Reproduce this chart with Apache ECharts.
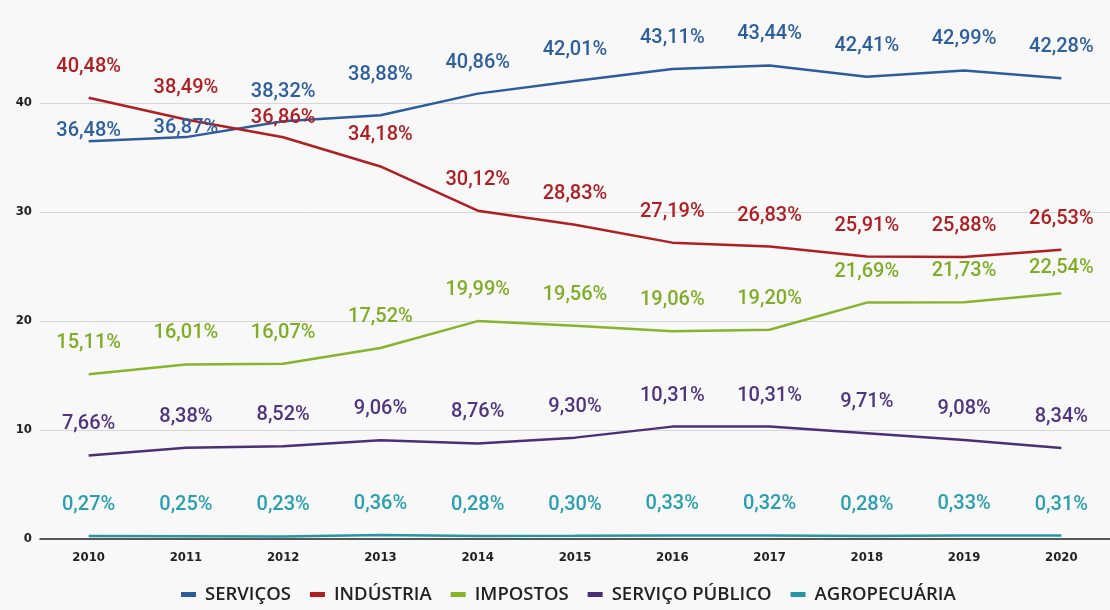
<!DOCTYPE html>
<html lang="pt">
<head>
    <meta charset="UTF-8">
    <title>PIB por setor</title>
    <script src="https://cdnjs.cloudflare.com/ajax/libs/echarts/6.0.0/echarts.min.js"></script>
    <style>
        html, body { margin: 0; padding: 0; background: #f8f8f8; }
        #main { width: 1110px; height: 610px; }
    </style>
</head>
<body>
    <div id="main"></div>
    <script>
        var years = ['2010', '2011', '2012', '2013', '2014', '2015', '2016', '2017', '2018', '2019', '2020'];
        var servicos = [36.48, 36.87, 38.32, 38.88, 40.86, 42.01, 43.11, 43.44, 42.41, 42.99, 42.28];
        var industria = [40.48, 38.49, 36.86, 34.18, 30.12, 28.83, 27.19, 26.83, 25.91, 25.88, 26.53];
        var impostos = [15.11, 16.01, 16.07, 17.52, 19.99, 19.56, 19.06, 19.20, 21.69, 21.73, 22.54];
        var servicoPublico = [7.66, 8.38, 8.52, 9.06, 8.76, 9.30, 10.31, 10.31, 9.71, 9.08, 8.34];
        var agropecuaria = [0.27, 0.25, 0.23, 0.36, 0.28, 0.30, 0.33, 0.32, 0.28, 0.33, 0.31];
        var gridTicks = [10, 20, 30, 40];

        var chart = echarts.init(document.getElementById('main'));

        // label distance tweaks where the original labels sit closer to the line
        var nudge = {
            'SERVIÇOS': { 0: 0, 1: -1, 2: 19, 3: 30 },
            'INDÚSTRIA': { 2: 9 },
            'IMPOSTOS': { 10: 15 }
        };

        function makeSeries(name, values, color, labelColor) {
            var data = values.map(function (v, i) {
                var n = nudge[name];
                if (n && n[i] !== undefined) {
                    return { value: v, label: { distance: n[i] } };
                }
                return v;
            });
            return {
                name: name,
                type: 'line',
                data: data,
                showSymbol: true,
                symbol: 'circle',
                symbolSize: 0.1,
                z: 3,
                lineStyle: { color: color, width: 2.5 },
                itemStyle: { color: color },
                label: {
                    show: true,
                    position: 'top',
                    distance: 21,
                    color: labelColor,
                    fontFamily: 'Roboto',
                    fontWeight: 500,
                    fontSize: 20,
                    formatter: function (p) {
                        return p.value.toFixed(2).replace('.', ',') + '%';
                    }
                },
                emphasis: { disabled: true }
            };
        }

        var series = [
            makeSeries('SERVIÇOS', servicos, '#2d5c9c', '#2d5f9e'),
            makeSeries('INDÚSTRIA', industria, '#b01e22', '#b01e22'),
            makeSeries('IMPOSTOS', impostos, '#86b42c', '#7fae26'),
            makeSeries('SERVIÇO PÚBLICO', servicoPublico, '#4a2f78', '#4f3480'),
            makeSeries('AGROPECUÁRIA', agropecuaria, '#2596a4', '#2a9fb0')
        ];

        // horizontal grid lines only at the labelled ticks
        series[0].markLine = {
            silent: true,
            symbol: 'none',
            label: { show: false },
            z: 1,
            lineStyle: { color: '#d6d6d6', width: 1, type: 'solid' },
            data: gridTicks.map(function (t) { return { yAxis: t }; })
        };

        var option = {
            backgroundColor: '#f8f8f8',
            animation: false,
            grid: { left: 40, right: -10, top: 0, bottom: 71 },
            legend: {
                bottom: 1,
                left: 176,
                icon: 'rect',
                itemWidth: 15,
                itemHeight: 5,
                itemGap: 19,
                textStyle: {
                    fontFamily: 'Open Sans',
                    fontWeight: 600,
                    fontSize: 18.5,
                    color: '#222',
                    padding: [0, 0, 0, 4]
                },
                data: ['SERVIÇOS', 'INDÚSTRIA', 'IMPOSTOS', 'SERVIÇO PÚBLICO', 'AGROPECUÁRIA']
            },
            xAxis: {
                type: 'category',
                data: years,
                boundaryGap: true,
                axisLine: { lineStyle: { color: '#222', width: 1.5 } },
                axisTick: { show: false },
                axisLabel: {
                    margin: 12,
                    fontFamily: 'DejaVu Sans Condensed',
                    fontWeight: 'bold',
                    fontSize: 13,
                    color: '#222'
                }
            },
            yAxis: {
                type: 'value',
                min: 0,
                max: 49.45,
                axisLine: { show: false },
                axisTick: { show: false },
                splitLine: { show: false },
                axisLabel: {
                    margin: 8,
                    fontFamily: 'DejaVu Sans Condensed',
                    fontWeight: 'bold',
                    fontSize: 13,
                    color: '#222',
                    customValues: [0, 10, 20, 30, 40]
                }
            },
            series: series
        };

        chart.setOption(option);
    </script>
</body>
</html>
